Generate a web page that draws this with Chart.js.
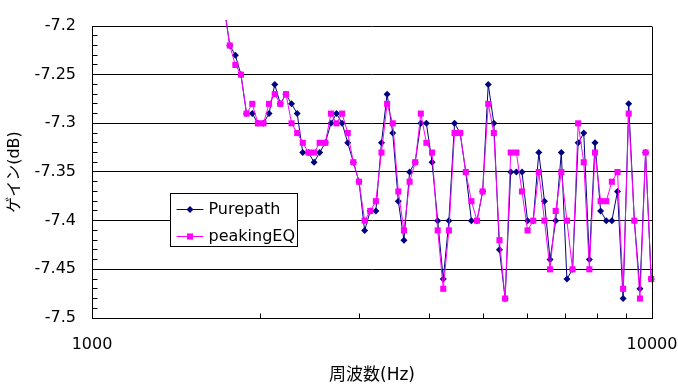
<!DOCTYPE html>
<html>
<head>
<meta charset="utf-8">
<script src="https://cdn.jsdelivr.net/npm/chart.js@4.4.0/dist/chart.umd.min.js"></script>
<style>
  html, body { margin: 0; padding: 0; background: #fff; }
  #wrap { width: 678px; height: 389px; }
</style>
</head>
<body>
<div id="wrap"><canvas id="gainChart"></canvas></div>
<script>
// frequency points (Hz)
const freqs = [1722, 1762, 1803, 1845, 1888, 1933, 1978, 2024, 2071, 2120,
  2169, 2220, 2272, 2325, 2379, 2435, 2492, 2550, 2610, 2671,
  2733, 2797, 2862, 2929, 2998, 3068, 3140, 3213, 3288, 3365,
  3444, 3524, 3606, 3691, 3777, 3865, 3955, 4048, 4143, 4239,
  4338, 4440, 4544, 4650, 4759, 4870, 4984, 5100, 5219, 5341,
  5466, 5594, 5725, 5859, 5995, 6136, 6279, 6426, 6576, 6730,
  6887, 7048, 7213, 7381, 7554, 7730, 7911, 8096, 8285, 8479,
  8677, 8880, 9087, 9300, 9517, 9740, 9967];

const purepath = [-7.18, -7.22, -7.23, -7.25, -7.29, -7.29, -7.30, -7.30, -7.29, -7.26,
  -7.28, -7.27, -7.28, -7.29, -7.33, -7.33, -7.34, -7.33, -7.32, -7.30,
  -7.29, -7.30, -7.32, -7.34, -7.36, -7.41, -7.39, -7.39, -7.32, -7.27,
  -7.31, -7.38, -7.42, -7.35, -7.34, -7.30, -7.30, -7.34, -7.40, -7.46,
  -7.40, -7.30, -7.31, -7.35, -7.40, -7.40, -7.37, -7.26, -7.30, -7.43,
  -7.48, -7.35, -7.35, -7.35, -7.40, -7.40, -7.33, -7.38, -7.44, -7.40,
  -7.33, -7.46, -7.45, -7.32, -7.31, -7.44, -7.32, -7.39, -7.40, -7.40,
  -7.37, -7.48, -7.28, -7.40, -7.47, -7.33, -7.46];

const peakingEQ = [-7.18, -7.22, -7.24, -7.25, -7.29, -7.28, -7.30, -7.30, -7.28, -7.27,
  -7.28, -7.27, -7.30, -7.31, -7.32, -7.33, -7.33, -7.32, -7.32, -7.29,
  -7.30, -7.29, -7.31, -7.34, -7.36, -7.40, -7.39, -7.38, -7.33, -7.28,
  -7.30, -7.37, -7.41, -7.36, -7.34, -7.29, -7.32, -7.33, -7.41, -7.47,
  -7.41, -7.31, -7.31, -7.35, -7.38, -7.40, -7.37, -7.28, -7.31, -7.42,
  -7.48, -7.33, -7.33, -7.37, -7.41, -7.40, -7.35, -7.40, -7.45, -7.39,
  -7.35, -7.40, -7.45, -7.30, -7.34, -7.45, -7.33, -7.38, -7.38, -7.36,
  -7.35, -7.47, -7.29, -7.40, -7.48, -7.33, -7.46];

const yTicks = [-7.5, -7.45, -7.4, -7.35, -7.3, -7.25, -7.2];
const xTicks = [1000, 2000, 3000, 4000, 5000, 6000, 7000, 8000, 9000, 10000];
const xTickLabels = [1000, 10000];

const FONT = "'DejaVu Sans', 'Noto Sans CJK JP', sans-serif";

// Excel style: inward minor ticks, right border, floating legend box
const excelBits = {
  id: 'excelBits',
  afterDatasetsDraw(chart) {
    const {ctx, chartArea: a, scales: {x, y}} = chart;
    const al = p => Math.round(p - 0.5) + 0.5;
    ctx.save();
    ctx.strokeStyle = '#000';
    ctx.lineWidth = 1;
    ctx.beginPath();
    ctx.moveTo(al(a.right), al(a.top));
    ctx.lineTo(al(a.right), al(a.bottom));
    for (let i = 1; i < 30; i++) {
      const py = al(y.getPixelForValue(y.min + i * 0.01));
      ctx.moveTo(al(a.left), py);
      ctx.lineTo(al(a.left) + 5, py);
    }
    x.ticks.forEach(t => {
      if (t.value <= x.min || t.value >= x.max) return;
      const px = al(x.getPixelForValue(t.value));
      ctx.moveTo(px, al(a.bottom));
      ctx.lineTo(px, al(a.bottom) - 5);
    });
    ctx.stroke();

    // legend
    const lx = al(a.left + 78), ly = al(a.top + 167), lw = 127, lh = 53;
    ctx.fillStyle = '#fff';
    ctx.fillRect(lx, ly, lw, lh);
    ctx.strokeRect(lx, ly, lw, lh);
    ctx.font = '16px ' + FONT;
    ctx.textBaseline = 'middle';
    chart.data.datasets.forEach((ds, i) => {
      const ry = Math.round(ly + 15 + i * 27) + 0.5;
      ctx.strokeStyle = ds.borderColor;
      ctx.beginPath();
      ctx.moveTo(lx + 6, ry);
      ctx.lineTo(lx + 33, ry);
      ctx.stroke();
      ctx.fillStyle = ds.pointBackgroundColor;
      const cx = lx + 19.5;
      ctx.beginPath();
      if (ds.pointStyle === 'rectRot') {
        const r = ds.pointRadius;
        ctx.moveTo(cx - r, ry); ctx.lineTo(cx, ry - r);
        ctx.lineTo(cx + r, ry); ctx.lineTo(cx, ry + r);
        ctx.closePath();
      } else {
        const h = Math.SQRT1_2 * ds.pointRadius;
        ctx.rect(cx - h, ry - h, 2 * h, 2 * h);
      }
      ctx.fill();
      ctx.fillStyle = '#000';
      ctx.fillText(ds.label, lx + 38, ry);
    });
    ctx.restore();
  }
};

const ctx = document.getElementById('gainChart').getContext('2d');
new Chart(ctx, {
  type: 'line',
  data: {
    datasets: [
      {
        label: 'Purepath',
        data: freqs.map((f, i) => ({x: f, y: purepath[i]})),
        borderColor: '#000080',
        backgroundColor: '#000080',
        pointBackgroundColor: '#000080',
        pointBorderWidth: 0,
        pointStyle: 'rectRot',
        pointRadius: 3.5,
        borderWidth: 1,
        tension: 0,
        fill: false,
        order: 2,
        clip: {left: 5, top: 6, right: 5, bottom: 5}
      },
      {
        label: 'peakingEQ',
        data: freqs.map((f, i) => ({x: f, y: peakingEQ[i]})),
        borderColor: '#ff00ff',
        backgroundColor: '#ff00ff',
        pointBackgroundColor: '#ff00ff',
        pointBorderWidth: 0,
        pointStyle: 'rect',
        pointRadius: 4.3,
        borderWidth: 1,
        tension: 0,
        fill: false,
        order: 1,
        clip: {left: 5, top: 6, right: 5, bottom: 5}
      }
    ]
  },
  options: {
    responsive: true,
    maintainAspectRatio: false,
    animation: false,
    layout: {padding: {left: 0, right: 26, top: 26, bottom: 0}},
    plugins: {
      legend: {display: false},
      tooltip: {enabled: false}
    },
    scales: {
      x: {
        type: 'logarithmic',
        min: 1000,
        max: 10000,
        afterBuildTicks: s => { s.ticks = xTicks.map(v => ({value: v})); },
        afterFit: s => { s.height = 71; s.paddingLeft = 0; s.paddingRight = 0; },
        grid: {drawOnChartArea: false, drawTicks: false},
        border: {display: true, color: '#000', width: 1},
        ticks: {
          autoSkip: false,
          maxRotation: 0,
          padding: 17,
          color: '#000',
          font: {family: FONT, size: 16},
          callback: v => xTickLabels.includes(v) ? String(v) : ''
        },
        title: {
          display: true,
          text: '周波数(Hz)',
          color: '#000',
          font: {family: FONT, size: 17},
          padding: {top: 0, bottom: 3}
        }
      },
      y: {
        min: -7.5,
        max: -7.2,
        afterBuildTicks: s => { s.ticks = yTicks.map(v => ({value: v})); },
        afterFit: s => { s.width = 92; s.paddingTop = 0; s.paddingBottom = 0; },
        grid: {color: '#000', lineWidth: 1, drawTicks: false},
        border: {display: true, color: '#000', width: 1},
        ticks: {
          padding: 16,
          color: '#000',
          font: {family: FONT, size: 16},
          callback: v => String(v)
        },
        title: {
          display: true,
          text: 'ゲイン(dB)',
          color: '#000',
          font: {family: FONT, size: 16},
          padding: {top: 5, bottom: 0}
        }
      }
    }
  },
  plugins: [excelBits]
});
</script>
</body>
</html>
